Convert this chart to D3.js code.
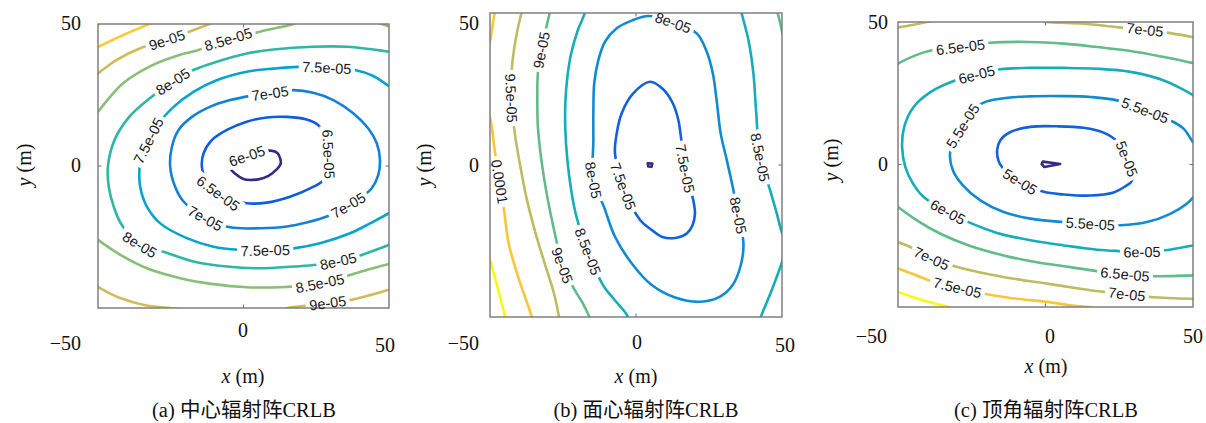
<!DOCTYPE html>
<html><head><meta charset="utf-8">
<script src="https://cdn.jsdelivr.net/npm/d3@7/dist/d3.min.js"></script>
<style>body{margin:0;background:#fff}</style>
</head><body>
<svg id="chart" width="1206" height="423"></svg>
<script>
// ---------------- DATA (x, y in metres; levels = CRLB) ----------------
const tickValues = [-50, 0, 50];
const captions = ["(a) 中心辐射阵CRLB", "(b) 面心辐射阵CRLB", "(c) 顶角辐射阵CRLB"];

// Panel (a) 中心辐射阵
const levelsA = [6e-5, 6.5e-5, 7e-5, 7.5e-5, 8e-5, 8.5e-5, 9e-5, 9.5e-5, 1e-4];
const a60 = [[9.2,5.4],[11.7,4.5],[12.8,0.9],[11.2,-1.4],[8.6,-3.5],[5.1,-4.7],[0,-4.6],[-4.8,-0.2],[-2.5,2.0],[2.0,3.8],[6.0,5.0]];
const a65 = [[25.7,14.4],[21.7,16.4],[14.9,17.3],[8.0,17.1],[1.1,15.6],[-5.7,12.7],[-10.9,9.1],[-13.7,4.5],[-14.3,-0.2],[-12.6,-5.5],[-6.9,-10.8],[1.1,-13.1],[8.0,-12.9],[16.0,-10.8],[22.9,-7.9],[27.5,-4.9],[29.0,0],[29.2,5.0],[28.0,10.3]];
const a70 = [[17.2,26.7],[24.0,25.8],[30.9,23.2],[37.8,18.5],[42.9,13.2],[45.8,8.0],[46.9,2.1],[46.3,-3.2],[44.0,-7.9],[40.6,-10.8],[35.5,-14.1],[28.6,-17.8],[21.7,-19.9],[14.9,-21.3],[5.7,-21.9],[-4.6,-21.6],[-13.2,-18.4],[-20.6,-12.5],[-23.5,-7.3],[-25.2,-0.2],[-24.6,6.8],[-22.3,12.7],[-17.7,17.3],[-11.4,20.9],[-4.6,23.2],[2.5,24.7],[9.2,25.6]];
const a75 = [[50.5,27.8],[50,28.1],[44.6,31.7],[38.3,33.8],[28.6,34.6],[18.9,34.9],[10.3,34.3],[1.1,33.2],[-9.2,30.2],[-17.2,26.1],[-24.6,20.3],[-29.5,14.5],[-32.6,9.1],[-35.0,3.5],[-35.7,-0.2],[-35.5,-7.3],[-33.2,-14.3],[-28.6,-20.2],[-19.5,-25.4],[-10.3,-28.4],[-1.7,-29.5],[7.4,-29.7],[17.2,-29.0],[26.3,-27.2],[36.6,-23.7],[43.5,-20.2],[50,-16.6],[50.5,-16.3]];
const a80 = [[50.5,40.1],[50,40.2],[44.6,41.0],[35.5,42.0],[24.0,42.0],[10.3,41.0],[1.1,39.6],[-9.2,36.7],[-17.2,33.8],[-24.3,29.7],[-32.3,23.8],[-39.2,17.4],[-44.3,9.2],[-46.6,-0.2],[-46.3,-7.3],[-44.6,-14.3],[-41.8,-20.8],[-35.5,-27.8],[-28.6,-29.8],[-17.2,-33.6],[-5.7,-35.4],[5.7,-36.0],[17.2,-35.4],[25.2,-34.8],[32.6,-33.5],[40.6,-31.3],[50,-27.8],[50.5,-27.6]];
const a85top = [[-50.5,18.5],[-50,19.1],[-41.4,29.1],[-31.1,35.6],[-22.0,39.1],[-16.3,40.6],[-5.3,44.6],[5.7,47.3],[17.1,50],[18,50.4]];
const a85corner = [[46.5,50.5],[48,49.8],[50.5,49]];
const a85bot = [[-50.5,-25.6],[-50,-26.0],[-42.3,-31.3],[-33.2,-36.0],[-21.7,-39.5],[-10.3,-41.6],[1.1,-42.7],[12.6,-42.7],[17.7,-42.4],[26.3,-41.3],[35.5,-38.7],[43.5,-36.3],[50,-34.5],[50.5,-34.4]];
const a90top = [[-50.5,32.3],[-50,32.6],[-43.7,37.3],[-35.7,41.4],[-26.3,44.4],[-18.6,47.3],[-11.7,50],[-10,50.8]];
const a90botL = [[-50.5,-42.3],[-50,-42.6],[-42.4,-46.5],[-33.8,-49.0],[-25.2,-50],[-22,-50.5]];
const a90botR = [[14,-50.5],[15.3,-50],[20.4,-49.3],[29.0,-48.2],[37.6,-47.0],[49.6,-43.7],[51,-43.2]];
const a95top = [[-50.5,41.6],[-50,41.9],[-41.4,46.1],[-32.4,50],[-30,51]];
const a100 = [[-50.5,49],[-49,50.5]];
const segmentsA = [[6e-5,a60,true],[6.5e-5,a65,true],[7e-5,a70,true],[7.5e-5,a75,false],[8e-5,a80,false],
  [8.5e-5,a85top,false],[8.5e-5,a85corner,false],[8.5e-5,a85bot,false],[9e-5,a90top,false],[9e-5,a90botL,false],
  [9e-5,a90botR,false],[9.5e-5,a95top,false],[1e-4,a100,false]];
const labelsA = [[6e-5,1.0,3.6],[6.5e-5,29,4],[6.5e-5,-8.5,-9.3],[7e-5,9.2,25.3],[7e-5,36,-13.5],[7e-5,-13.2,-18.4],
  [7.5e-5,28.6,34.6],[7.5e-5,-32.5,9.0],[7.5e-5,7.4,-29.7],[8e-5,-24.3,29.7],[8e-5,-35.5,-27.8],[8e-5,32.6,-33.8],
  [8.5e-5,-5.3,44.6],[8.5e-5,26.3,-41.3],[9e-5,-26.3,44.4],[9e-5,29.0,-48.2]];

// Panel (b) 面心辐射阵
const levelsB = [7e-5, 7.5e-5, 8e-5, 8.5e-5, 9e-5, 9.5e-5, 1e-4, 1.05e-4];
const b70 = [[4.0,0.6],[5.6,0.5],[5.3,-0.6],[4.2,-0.5]];
const b75 = [[-7.2,3.8],[-6.6,10.4],[-4.9,17.0],[-1.1,23.4],[4.8,27.4],[9.3,24.9],[12.6,20.3],[14.5,14.8],[15.3,9.9],[16.8,-1.1],[19.6,-11.5],[20.2,-15.9],[19.4,-19.7],[17.4,-22.5],[13.9,-23.9],[9.3,-23.8],[5.4,-21.4],[1.4,-18.1],[-4.3,-7.1]];
const b80 = [[4.2,49.0],[-1.5,47.5],[-6.6,45.0],[-10.6,40.6],[-12.9,34.5],[-14.3,26.9],[-14.6,18.1],[-14.6,8.2],[-14.6,-4.9],[-11.0,-13.7],[-7.2,-23.6],[-1.5,-32.3],[5.4,-39.5],[13.4,-43.6],[21.9,-45.0],[28.8,-43.3],[33.1,-39.5],[35.9,-32.9],[36.8,-25.8],[35.0,-16.4],[33.1,-7.1],[31.1,1.6],[29.0,10.4],[27.6,21.4],[26.3,30.2],[24.0,37.8],[20.8,43.3],[12.8,46.8]];
const b85L = [[-17.6,51],[-17.6,49.9],[-19.9,44.4],[-22.2,36.7],[-23.5,29.0],[-24.2,20.3],[-24.2,11.5],[-23.5,1.6],[-22.2,-8.2],[-20.4,-17.0],[-16.4,-28.5],[-11.3,-39.5],[-7.3,-44.4],[-3.3,-49.0],[-2.4,-51]];
const b85R = [[36,51],[36.2,49.9],[38.5,41.1],[40.2,30.2],[41.1,18.1],[42.5,2.7],[45.9,-8.2],[48.2,-15.9],[49.7,-21.4],[50.5,-23.5]];
const b85RB = [[50.5,-30.5],[49.9,-32.3],[46.5,-41.1],[43.0,-49.3],[42.3,-51]];
const b90 = [[-29.5,51],[-29.6,49.9],[-30.4,46.6],[-32.4,37.8],[-33.6,30.2],[-33.8,22.5],[-33.6,12.6],[-32.4,1.6],[-30.4,-10.4],[-27.3,-24.7],[-25.3,-32.9],[-21.0,-41.1],[-18.2,-45.5],[-16.4,-49.0],[-15.5,-51]];
const b90corner = [[48,51],[48.7,49.3],[49.9,44.4],[50.5,42]];
const b95 = [[-39.2,51],[-39.3,49.9],[-40.6,44.4],[-41.8,37.8],[-42.5,31.8],[-42.7,21.9],[-41.5,10.4],[-39.8,0.6],[-37.6,-10.4],[-34.7,-21.4],[-31.3,-32.3],[-28.1,-42.2],[-26.5,-49.3],[-26.2,-51]];
const b100top = [[-48,51],[-48.4,50],[-49.9,41.1],[-51,37]];
const b100 = [[-51,17],[-50,15.5],[-48.4,4.9],[-46.7,-5.5],[-45.2,-14.8],[-43.6,-25.8],[-40.4,-36.7],[-35.9,-49.3],[-35.5,-51]];
const b105 = [[-51,-29],[-50,-31.3],[-47.5,-40],[-45,-49.3],[-44.7,-51]];
const segmentsB = [[7e-5,b70,true],[7.5e-5,b75,true],[8e-5,b80,true],[8.5e-5,b85L,false],[8.5e-5,b85R,false],
  [8.5e-5,b85RB,false],[9e-5,b90,false],[9e-5,b90corner,false],[9.5e-5,b95,false],[1e-4,b100top,false],
  [1e-4,b100,false],[1.05e-4,b105,false]];
const labelsB = [[7.5e-5,16.8,-1.1],[7.5e-5,-4.3,-7.1],[8e-5,12.8,46.8],[8e-5,-14.3,-4.9],[8e-5,35.2,-16.4],
  [8.5e-5,-16.4,-28.5],[8.5e-5,43,2.7],[9e-5,-32.4,37.8],[9e-5,-25.3,-32.9],[9.5e-5,-42.7,21.9],[1e-4,-46.7,-5.5]];

// Panel (c) 顶角辐射阵
const levelsC = [4.5e-5, 5e-5, 5.5e-5, 6e-5, 6.5e-5, 7e-5, 7.5e-5, 8e-5];
const c45 = [[-0.9,1.0],[5.0,0.2],[-0.4,-0.9],[-1.3,0.1]];
const c50 = [[-0.6,-9.6],[6.2,-10.5],[15.2,-10.9],[23.1,-9.8],[26.7,-7.9],[29.3,-5.6],[27.6,2.0],[24.5,7.9],[19.7,11.2],[12.9,12.9],[3.9,13.4],[-5.1,13.2],[-11.9,11.4],[-15.3,8.5],[-16.4,5.0],[-15.9,1.2],[-14.7,-0.9],[-8.5,-6.1]];
const c55 = [[50.5,7.5],[50,7.9],[46.8,12.6],[42.3,15.5],[33.8,19.0],[24.2,22.5],[15.2,23.7],[6.2,24.0],[-5.1,23.9],[-15.3,23.1],[-22.1,21.1],[-28.3,13.2],[-32.3,4.4],[-31.4,-2.0],[-28.0,-7.3],[-22.1,-12.6],[-14.2,-16.7],[-5.1,-19.0],[6.2,-20.2],[15.2,-20.8],[25.4,-21.3],[34.4,-20.2],[42.3,-17.3],[48.0,-13.7],[50,-11.6],[50.5,-11]];
const c60 = [[50.5,23.8],[50,24.3],[40.1,29.5],[28.8,32.5],[17.5,33.6],[6.2,33.9],[-5.1,33.9],[-15.3,33.4],[-23.2,31.6],[-31.1,29.3],[-39.0,25.4],[-44.7,20.2],[-47.9,13.2],[-48.6,6.1],[-47.5,-0.9],[-44.9,-6.7],[-41.3,-11.4],[-32.8,-16.8],[-25.5,-20.5],[-16.4,-24.0],[-5.1,-26.6],[6.2,-28.4],[17.5,-29.9],[25.4,-30.4],[32.7,-30.7],[40.6,-30.1],[50,-28.4],[50.5,-28.3]];
const c65top = [[-50.5,35.1],[-50,35.4],[-44.1,38.3],[-38.5,40.1],[-28.9,41.2],[-18.7,42.7],[-5.1,43.0],[6.2,42.4],[17.5,41.2],[28.8,39.8],[40.1,37.7],[50,35.6],[50.5,35.5]];
const c65bot = [[-50.5,-14.5],[-50,-14.9],[-43.6,-19.6],[-35.6,-24.3],[-25.5,-28.6],[-14.2,-31.9],[-2.9,-34.3],[8.4,-36.0],[17.5,-37.4],[27.1,-38.5],[37.2,-39.2],[50,-38.9],[50.5,-38.9]];
const c70TL = [[-50.5,48.4],[-50,48.2],[-40.2,50],[-38,50.5]];
const c70TR = [[-1,50.5],[0.5,50],[12.9,49.4],[24.2,48.2],[33.8,47.3],[42.3,46.1],[50,44.7],[50.5,44.6]];
const c70bot = [[-50.5,-27],[-50,-27.2],[-45.3,-29.2],[-38.5,-33.0],[-31.1,-35.6],[-22.1,-37.9],[-10.8,-40.1],[0.5,-41.8],[11.8,-43.6],[19.7,-44.7],[27.6,-45.5],[35.5,-46.5],[50,-47.1],[50.5,-47.1]];
const c75 = [[-50.5,-36.3],[-50,-36.5],[-44.7,-38.5],[-39.6,-40.6],[-30.0,-43.2],[-19.8,-45.5],[-9.7,-47.1],[0.5,-48.2],[8.4,-49.4],[14.6,-50],[16,-50.3]];
const c80 = [[-50.5,-44.5],[-50,-44.7],[-41.3,-47.7],[-32.8,-50],[-31,-50.5]];
const segmentsC = [[4.5e-5,c45,true],[5e-5,c50,true],[5.5e-5,c55,false],[6e-5,c60,false],[6.5e-5,c65top,false],
  [6.5e-5,c65bot,false],[7e-5,c70TL,false],[7e-5,c70TR,false],[7e-5,c70bot,false],[7.5e-5,c75,false],[8e-5,c80,false]];
const labelsC = [[5e-5,27.6,2.0],[5e-5,-8.5,-5.6],[5.5e-5,33.8,19.0],[5.5e-5,-27.8,13.2],[5.5e-5,15.2,-20.8],
  [6e-5,-23.2,31.6],[6e-5,-32.8,-16.0],[6e-5,32.7,-30.7],[6.5e-5,-28.9,41.3],[6.5e-5,27.1,-38.5],
  [7e-5,33.8,47.3],[7e-5,-38.5,-32.8],[7e-5,27.6,-45.5],[7.5e-5,-30.0,-43.2]];

// ---------------- STYLE / LAYOUT ----------------
const parulaStops = ["#352a87","#0f5cdd","#1481d6","#06a4ca","#2eb7a4","#87bf77","#d1bb59","#fec832","#f9fb0e"];
const parula = d3.piecewise(d3.interpolateRgb, parulaStops);

const panels = [
  {id:"a", levels:levelsA, segs:segmentsA, labels:labelsA, L:98, R:389, T:24, B:308,
   yTickX:81, yTickY:[30,172], minus:[81,350], x0:[243,337], x50:[385,352], xlab:[243,383], ylab:[31,165], cap:[244,417]},
  {id:"b", levels:levelsB, segs:segmentsB, labels:labelsB, L:490, R:782, T:13, B:317,
   yTickX:479, yTickY:[30,172], minus:[479,350], x0:[637,349], x50:[785,352], xlab:[636,383], ylab:[431,165], cap:[646,417]},
  {id:"c", levels:levelsC, segs:segmentsC, labels:labelsC, L:898, R:1193, T:22, B:307,
   yTickX:888, yTickY:[29,171], minus:[887,343], x0:[1050,343], x50:[1193,343], xlab:[1046,373], ylab:[838,160], cap:[1046,417]}
];

function fmtG(v){
  const e = Math.floor(Math.log10(v) + 1e-9);
  if (e < -4) {
    const m = +(v / Math.pow(10, e)).toPrecision(6);
    return m + "e-" + String(-e).padStart(2, "0");
  }
  return String(+v.toPrecision(6));
}

const svg = d3.select("#chart");
const serif = "'Liberation Serif','DejaVu Serif',serif";

panels.forEach((p, pi) => {
  const x = d3.scaleLinear().domain([-50, 50]).range([p.L, p.R]);
  const y = d3.scaleLinear().domain([-50, 50]).range([p.B, p.T]);
  const n = p.levels.length;
  const color = lv => parula(p.levels.findIndex(l => Math.abs(l - lv) < 1e-12) / (n - 1));

  const defs = svg.append("defs");
  defs.append("clipPath").attr("id", "clip" + p.id)
    .append("rect").attr("x", p.L).attr("y", p.T).attr("width", p.R - p.L).attr("height", p.B - p.T);
  const mask = defs.append("mask").attr("id", "mask" + p.id).attr("maskUnits", "userSpaceOnUse")
    .attr("x", 0).attr("y", 0).attr("width", 1206).attr("height", 423);
  mask.append("rect").attr("x", 0).attr("y", 0).attr("width", 1206).attr("height", 423).attr("fill", "#fff");

  const gl = svg.append("g").attr("clip-path", `url(#clip${p.id})`).attr("mask", `url(#mask${p.id})`);
  const drawn = [];
  p.segs.forEach(([lv, pts, closed]) => {
    let curve;
    if (pts.length <= 4 && closed) curve = d3.curveLinearClosed;
    else curve = closed ? d3.curveCatmullRomClosed.alpha(0.5) : d3.curveCatmullRom.alpha(0.5);
    const line = d3.line().x(d => x(d[0])).y(d => y(d[1])).curve(curve);
    const path = gl.append("path").attr("d", line(pts)).attr("fill", "none")
      .attr("stroke", color(lv)).attr("stroke-width", 2.6).attr("stroke-linejoin", "round");
    drawn.push({lv, node: path.node()});
  });

  // box
  svg.append("rect").attr("x", p.L).attr("y", p.T).attr("width", p.R - p.L).attr("height", p.B - p.T)
    .attr("fill", "none").attr("stroke", "#777").attr("stroke-width", 1.4);
  // ticks (inward) at 0
  const tl = 3.5;
  const gt = svg.append("g").attr("stroke", "#777").attr("stroke-width", 1.1);
  gt.append("line").attr("x1", x(0)).attr("x2", x(0)).attr("y1", p.B).attr("y2", p.B - tl);
  gt.append("line").attr("x1", x(0)).attr("x2", x(0)).attr("y1", p.T).attr("y2", p.T + tl);
  gt.append("line").attr("y1", y(0)).attr("y2", y(0)).attr("x1", p.L).attr("x2", p.L + tl);
  gt.append("line").attr("y1", y(0)).attr("y2", y(0)).attr("x1", p.R).attr("x2", p.R - tl);

  // contour labels
  const gLab = svg.append("g");
  p.labels.forEach(([lv, lx, ly]) => {
    const px = x(lx), py = y(ly);
    let best = null;
    drawn.filter(d => Math.abs(d.lv - lv) < 1e-12).forEach(d => {
      const L = d.node.getTotalLength();
      for (let s = 0; s <= L; s += 1) {
        const pt = d.node.getPointAtLength(s);
        const dd = (pt.x - px) ** 2 + (pt.y - py) ** 2;
        if (!best || dd < best.dd) best = {dd, s, L, node: d.node, pt};
      }
    });
    if (!best) return;
    const a = best.node.getPointAtLength(Math.max(0, best.s - 7));
    const b = best.node.getPointAtLength(Math.min(best.L, best.s + 7));
    let ang = Math.atan2(b.y - a.y, b.x - a.x) * 180 / Math.PI;
    if (ang > 90) ang -= 180;
    if (ang <= -90) ang += 180;
    const t = gLab.append("text").text(fmtG(lv))
      .attr("transform", `translate(${best.pt.x},${best.pt.y}) rotate(${ang})`)
      .attr("text-anchor", "middle").attr("dy", "0.36em")
      .attr("font-family", "'Liberation Sans',Arial,sans-serif").attr("font-size", 14.5).attr("fill", "#1a1a1a");
    const w = t.node().getComputedTextLength() + 7;
    mask.append("rect").attr("x", -w / 2).attr("y", -8).attr("width", w).attr("height", 16)
      .attr("transform", `translate(${best.pt.x},${best.pt.y}) rotate(${ang})`).attr("fill", "#000");
  });

  // tick labels
  const fmtT = v => (v < 0 ? "\u2212" + Math.abs(v) : String(v));
  const gT = svg.append("g").attr("font-family", serif).attr("font-size", 20).attr("fill", "#111");
  gT.append("text").attr("x", p.yTickX).attr("y", p.yTickY[0]).attr("text-anchor", "end").text(fmtT(tickValues[2]));
  gT.append("text").attr("x", p.yTickX).attr("y", p.yTickY[1]).attr("text-anchor", "end").text(fmtT(tickValues[1]));
  gT.append("text").attr("x", p.minus[0]).attr("y", p.minus[1]).attr("text-anchor", "end").text(fmtT(tickValues[0]));
  gT.append("text").attr("x", p.x0[0]).attr("y", p.x0[1]).attr("text-anchor", "middle").text(fmtT(tickValues[1]));
  gT.append("text").attr("x", p.x50[0]).attr("y", p.x50[1]).attr("text-anchor", "middle").text(fmtT(tickValues[2]));

  // axis labels
  const xl = svg.append("text").attr("x", p.xlab[0]).attr("y", p.xlab[1]).attr("text-anchor", "middle")
    .attr("font-family", serif).attr("font-size", 20).attr("fill", "#111");
  xl.append("tspan").attr("font-style", "italic").text("x");
  xl.append("tspan").text(" (m)");
  const yl = svg.append("text").attr("transform", `translate(${p.ylab[0]},${p.ylab[1]}) rotate(-90)`)
    .attr("text-anchor", "middle").attr("font-family", serif).attr("font-size", 20).attr("fill", "#111");
  yl.append("tspan").attr("font-style", "italic").text("y");
  yl.append("tspan").text(" (m)");

  // caption
  svg.append("text").attr("x", p.cap[0]).attr("y", p.cap[1]).attr("text-anchor", "middle")
    .attr("font-family", "'Liberation Serif','Noto Sans CJK SC',serif").attr("font-size", 20.5).attr("fill", "#111")
    .text(captions[pi]);
});
</script>
</body></html>
